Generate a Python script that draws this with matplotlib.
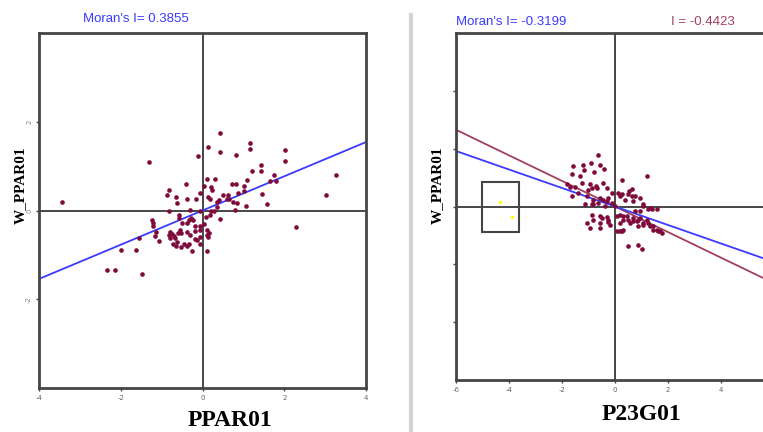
import numpy as np
import matplotlib.pyplot as plt
from matplotlib.patches import Rectangle
from matplotlib.lines import Line2D

# left panel: PPAR01 vs its spatial lag
ppar_x = [0.43, 1.15, 1.15, 2.02, 2.02, 0.13, 0.43, 0.83, -0.11, -1.30,
          1.42, 1.42, 1.22, 1.75, 1.81, 1.65, 1.09, 0.10, 0.30, -0.40,
          0.73, 0.83, 0.20, 0.04, 1.02, -0.83, -0.86, -0.07, 0.23, 0.49,
          0.63, 0.86, 1.46, -0.64, -0.37, -0.17, 0.14, 0.18, 0.40, 0.35,
          0.66, -0.62, 0.84, 0.79, 1.06, 1.59, -0.31, -0.83, -0.06, 0.22,
          0.27, 0.09, 0.18, 0.43, -0.58, -0.58, -0.29, -0.34, -1.23, -1.20,
          -1.20, -0.51, -0.39, -0.24, -0.18, -0.55, -0.06, 0.03, 2.29, -1.14,
          -1.06, -1.16, -0.79, -0.75, -0.70, -0.67, -0.79, -0.83, -0.60, -0.52,
          -0.37, -0.31, -0.18, -0.06, 0.12, 0.17, -0.18, -0.13, -0.05, 0.14,
          0.12, -0.53, -0.45, -0.39, -0.32, -0.26, -0.06, 0.10, -0.73, -0.65,
          -0.62, -1.56, -1.62, -1.99, -2.33, -2.13, -1.47, -3.43, 3.01, 3.26,
          1.02, 0.59, 0.75, 0.35]
ppar_wy = [1.75, 1.52, 1.38, 1.36, 1.12, 1.42, 1.32, 1.26, 1.22, 1.09,
           1.03, 0.88, 0.88, 0.79, 0.66, 0.66, 0.69, 0.72, 0.72, 0.59,
           0.59, 0.59, 0.54, 0.56, 0.55, 0.47, 0.35, 0.40, 0.47, 0.35,
           0.35, 0.40, 0.38, 0.31, 0.25, 0.25, 0.30, 0.25, 0.23, 0.20,
           0.25, 0.16, 0.16, 0.02, 0.11, 0.15, 0.02, -0.01, -0.02, 0.00,
           0.00, -0.14, -0.11, -0.20, -0.10, -0.16, -0.16, -0.22, -0.22, -0.29,
           -0.34, -0.29, -0.29, -0.22, -0.36, -0.43, -0.34, -0.31, -0.38, -0.49,
           -0.69, -0.57, -0.49, -0.54, -0.58, -0.63, -0.63, -0.56, -0.51, -0.51,
           -0.49, -0.56, -0.47, -0.45, -0.43, -0.51, -0.64, -0.67, -0.60, -0.60,
           -0.55, -0.82, -0.75, -0.79, -0.75, -0.91, -0.75, -0.91, -0.75, -0.79,
           -0.70, -0.62, -0.88, -0.88, -1.33, -1.33, -1.44, 0.20, 0.36, 0.79,
           0.43, 0.26, 0.19, 0.07]
moran_ppar = 0.3855

# right panel: P23G01 vs W_PPAR01
p23_x = [-0.65, -1.57, -1.22, -0.91, -0.57, -0.40, -1.63, -1.32, -1.16, -0.79,
         1.20, 0.28, -1.26, -0.94, -0.72, -0.44, -0.31, -1.82, -1.51, -1.63,
         -0.12, 0.12, 0.25, 0.54, 0.63, 0.94, 0.38, 0.69, 1.07, 1.26,
         -1.07, -0.82, -0.57, -0.31, -0.12, 0.00, -0.82, -0.63, -0.38, -1.07,
         -0.94, -0.82, -0.50, -0.57, -0.25, -0.19, 0.06, 0.19, 0.31, 0.44,
         0.57, 0.69, 0.82, 0.88, 0.94, 1.07, 1.20, 1.32, 1.45, 1.63,
         1.76, 0.31, 0.19, 0.48, 0.88, 1.01, 1.38, 0.75, 0.94, -1.01,
         -0.88, -0.69, -1.70, -1.41, -1.13, -0.88, -0.44, -0.25, -0.88, -0.57,
         -0.57, -0.31, -0.25, 0.63, 0.50, 0.75, 0.19, 1.07, 1.32, 1.57,
         0.31, 0.50, 0.69, 0.88, 1.07, 1.26, 1.45, 1.57, 1.70, 0.19,
         0.06, 0.25]
p23_wy = [1.78, 1.40, 1.44, 1.52, 1.43, 1.31, 1.11, 1.05, 1.25, 1.19,
          1.05, 0.90, 0.82, 0.77, 0.71, 0.82, 0.65, 0.77, 0.69, 0.36,
          0.48, 0.48, 0.42, 0.53, 0.36, 0.30, 0.24, 0.18, 0.03, -0.10,
          0.36, 0.24, 0.30, 0.18, 0.13, 0.01, 0.07, 0.13, 0.03, -0.57,
          -0.74, -0.45, -0.39, -0.74, -0.45, -0.63, -0.34, -0.28, -0.45, -0.34,
          -0.57, -0.39, -0.51, -0.69, -0.39, -0.63, -0.45, -0.69, -0.80, -0.86,
          -0.92, -0.80, -0.86, -1.36, -1.32, -1.46, -0.10, -0.16, -0.16, 0.56,
          0.63, 0.65, 0.67, 0.48, 0.07, 0.07, 0.24, 0.30, -0.28, -0.34,
          -0.57, -0.38, -0.53, 0.59, 0.42, 0.36, 0.36, 0.07, -0.05, -0.10,
          -0.34, -0.45, -0.51, -0.45, -0.57, -0.57, -0.69, -0.80, -0.86, -0.57,
          -0.86, -0.86]
moran_p23 = -0.3199
moran_p23_sel = -0.4423
sel_x = [-4.34, -3.89]
sel_y = [0.17, -0.38]
sel_box = (-5.02, -0.87, 1.40, 1.70)  # x0, y0, w, h

pt_color = '#7f0a3c'
blue = '#3a3aff'
maroon = '#a2405c'
axc = '#454545'
serif = 'Liberation Serif'
sans = 'Liberation Sans'

fig = plt.figure(figsize=(7.63, 4.32), dpi=100)


def style(ax, xlim, ylim, xt, yt, ylabels):
    ax.set_xlim(xlim)
    ax.set_ylim(ylim)
    for s in ax.spines.values():
        s.set_linewidth(2)
        s.set_color(axc)
    ax.axhline(0, color=axc, lw=1.4, zorder=1)
    ax.axvline(0, color=axc, lw=1.4, zorder=1)
    ax.set_xticks(xt)
    ax.set_yticks(yt)
    ax.set_xticklabels([str(v) for v in xt], fontsize=5, color='#666666')
    if ylabels:
        ax.set_yticklabels([str(v) for v in yt], fontsize=5, color='#888888',
                           rotation=90, va='center')
    else:
        ax.set_yticklabels([])
    ax.tick_params(length=2, width=1, color=axc, pad=3)


# left panel
ax1 = fig.add_axes([39 / 763, 44 / 432, 327 / 763, 355 / 432])
style(ax1, (-4, 4), (-4, 4), [-4, -2, 0, 2, 4], [-2, 0, 2], True)
xx = np.array([-4, 4])
ax1.plot(xx, moran_ppar * xx, color=blue, lw=1.3, zorder=2)
ax1.scatter(ppar_x, ppar_wy, s=11, color=pt_color, zorder=3, linewidths=0)
fig.text(83 / 763, 1 - 19 / 432, "Moran's I= %.4f" % moran_ppar, color=blue,
         fontsize=9.5, family=sans, va='center', ha='left')
fig.text(230 / 763, 1 - 421 / 432, 'PPAR01', fontsize=17, weight='bold',
         family=serif, ha='center', va='center')
fig.text(20 / 763, 1 - 185 / 432, 'W_PPAR01', fontsize=11, weight='bold',
         family=serif, rotation=90, ha='center', va='center')

# separator
fig.add_artist(Line2D([411 / 763, 411 / 763], [0, 1 - 15 / 432],
                      color='#d4d4d4', lw=3))

# right panel (cut off at the figure's right edge, as in the source)
ax2 = fig.add_axes([456 / 763, 52 / 432, 318 / 763, 347 / 432])
style(ax2, (-6, 6), (-6, 6), [-6, -4, -2, 0, 2, 4], [-4, -2, 0, 2, 4], False)
xx = np.array([-6, 6])
ax2.plot(xx, moran_p23_sel * xx, color=maroon, lw=1.3, zorder=2)
ax2.plot(xx, moran_p23 * xx, color=blue, lw=1.3, zorder=2)
ax2.scatter(p23_x, p23_wy, s=11, color=pt_color, zorder=3, linewidths=0)
ax2.add_patch(Rectangle(sel_box[:2], sel_box[2], sel_box[3], fill=False,
                        edgecolor=axc, lw=1.5, zorder=2))
ax2.scatter(sel_x, sel_y, s=6, color='#ffff00', zorder=3, linewidths=0)
fig.text(456 / 763, 1 - 22 / 432, "Moran's I= %.4f" % moran_p23, color=blue,
         fontsize=9.5, family=sans, va='center', ha='left')
fig.text(671 / 763, 1 - 22 / 432, 'I = %.4f' % moran_p23_sel, color=maroon,
         fontsize=9.5, family=sans, va='center', ha='left')
fig.text(641 / 763, 1 - 415 / 432, 'P23G01', fontsize=17, weight='bold',
         family=serif, ha='center', va='center')
fig.text(437 / 763, 1 - 185 / 432, 'W_PPAR01', fontsize=11, weight='bold',
         family=serif, rotation=90, ha='center', va='center')

fig.savefig('out.png', dpi=100)
